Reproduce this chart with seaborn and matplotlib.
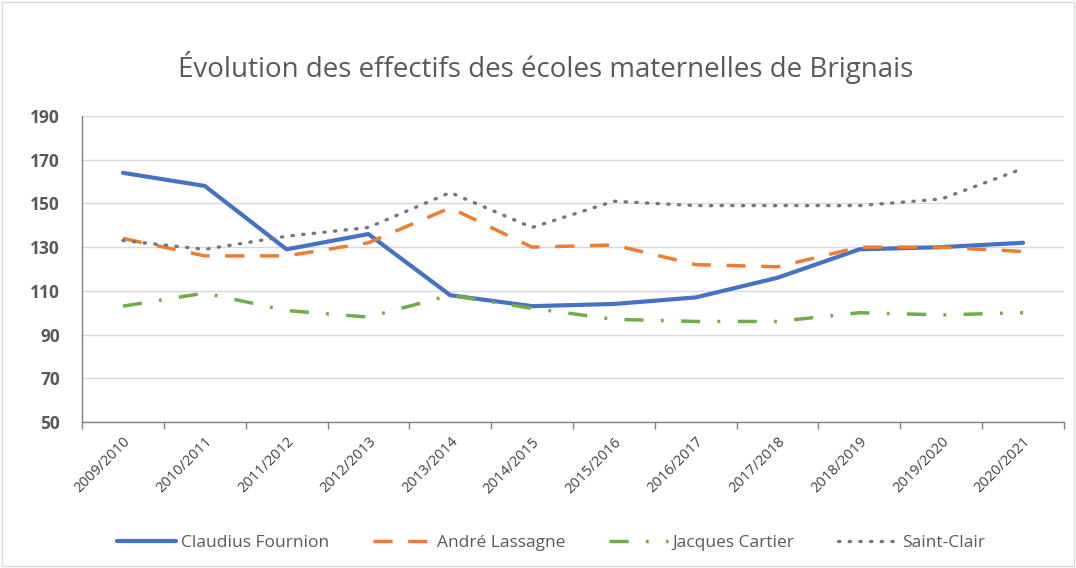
import numpy as np
import pandas as pd
import seaborn as sns
import matplotlib.pyplot as plt
from matplotlib.patches import Rectangle

years = ["2009/2010", "2010/2011", "2011/2012", "2012/2013", "2013/2014", "2014/2015",
         "2015/2016", "2016/2017", "2017/2018", "2018/2019", "2019/2020", "2020/2021"]
claudius = [164, 158, 129, 136, 108, 103, 104, 107, 116, 129, 130, 132]
andre = [134, 126, 126, 132, 148, 130, 131, 122, 121, 130, 130, 128]
jacques = [103, 109, 101, 98, 108, 102, 97, 96, 96, 100, 99, 100]
saint_clair = [133, 129, 135, 139, 155, 139, 151, 149, 149, 149, 152, 166]

series = {
    "Claudius Fournion": claudius,
    "André Lassagne": andre,
    "Jacques Cartier": jacques,
    "Saint-Clair": saint_clair,
}
colors = {
    "Claudius Fournion": "#4472C4",
    "André Lassagne": "#ED7D31",
    "Jacques Cartier": "#70AD47",
    "Saint-Clair": "#767676",
}
widths = {
    "Claudius Fournion": 3.0,
    "André Lassagne": 2.5,
    "Jacques Cartier": 2.5,
    "Saint-Clair": 2.4,
}
styles = {
    "Claudius Fournion": "-",
    "André Lassagne": (0, (5.5, 4.5)),
    "Jacques Cartier": (0, (5.5, 5, 0.8, 5)),
    "Saint-Clair": (0, (0.4, 2.8)),
}

sns.set_theme(style="white")
plt.rcParams['font.family'] = ['Open Sans', 'DejaVu Sans']

fig = plt.figure(figsize=(10.76, 5.68), dpi=100)
ax = fig.add_axes([82 / 1076, 1 - 422 / 568, (1064 - 82) / 1076, (422 - 116) / 568])

for name, vals in series.items():
    df = pd.DataFrame({"x": np.arange(len(years)), "y": vals})
    sns.lineplot(data=df, x="x", y="y", ax=ax, color=colors[name], linewidth=widths[name],
                 label=name, linestyle=styles[name],
                 dash_capstyle="round" if name == "Saint-Clair" else "butt")

ax.set_xlim(-0.5, 11.5)
ax.set_ylim(50, 190)
ax.set_yticks(range(50, 191, 20))
ax.yaxis.grid(True, color="#D9D9D9", linewidth=1)
ax.set_axisbelow(True)
ax.set_xticks(range(len(years)))
ax.set_xticklabels(years, rotation=45, ha="right", rotation_mode="anchor",
                   fontsize=10.5, color="#404040")
ax.set_xticks(np.arange(-0.5, 12, 1), minor=True)
ax.tick_params(axis="x", which="major", length=0, pad=9)
ax.tick_params(axis="x", which="minor", length=5, width=1, color="#808080", bottom=True)
ax.tick_params(axis="y", length=0, labelsize=12.5, labelcolor="#595959", pad=16)
for t in ax.get_yticklabels():
    t.set_fontweight("bold")
ax.set_xlabel("")
ax.set_ylabel("")
for s in ["top", "right"]:
    ax.spines[s].set_visible(False)
ax.spines["left"].set_color("#808080")
ax.spines["bottom"].set_color("#808080")
ax.spines["left"].set_linewidth(1)
ax.spines["bottom"].set_linewidth(1)

fig.text(546 / 1076, 1 - 67 / 568, "Évolution des effectifs des écoles maternelles de Brignais",
         ha="center", va="center", fontsize=20, color="#595959")

ax.legend(loc="center", bbox_to_anchor=(551 / 1076, 1 - 543 / 568),
          bbox_transform=fig.transFigure, ncol=4, frameon=False,
          fontsize=12.5, handlelength=3.4, columnspacing=2.5, handletextpad=0.3,
          labelcolor="#595959")

fig.patches.append(Rectangle((0.002, 0.004), 0.996, 0.992, transform=fig.transFigure,
                             fill=False, edgecolor="#D9D9D9", linewidth=1))

fig.savefig("out.png", dpi=100)
